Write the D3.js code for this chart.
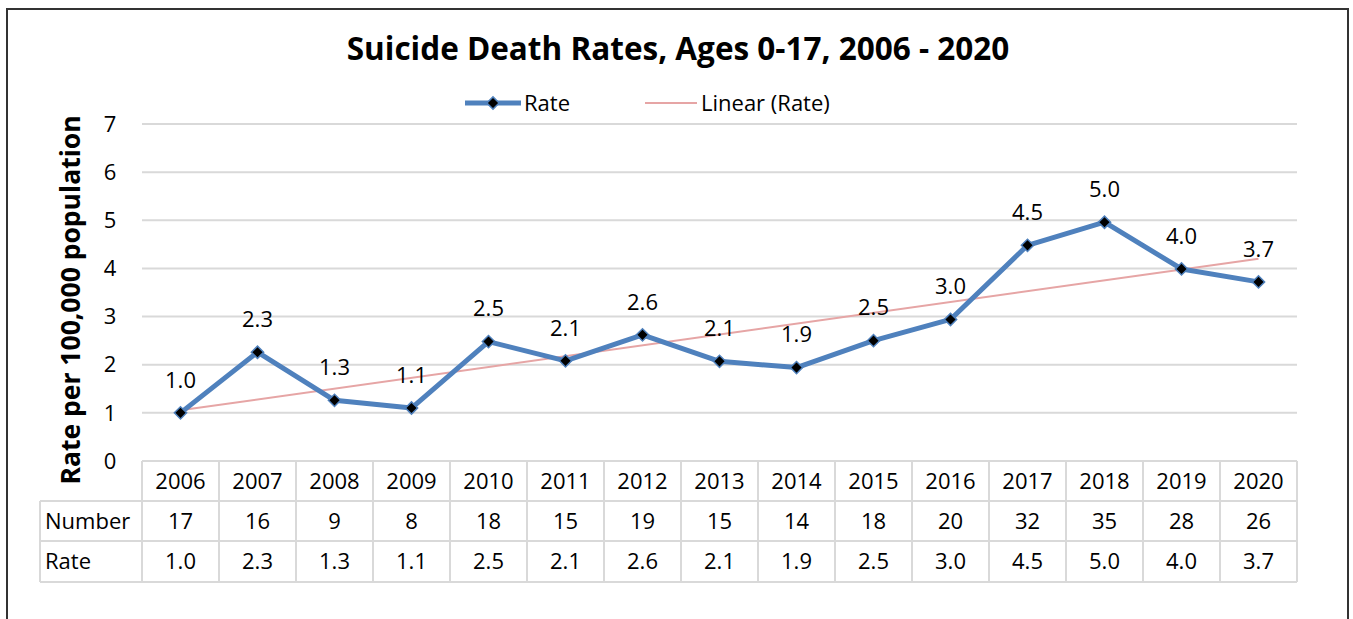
<!DOCTYPE html>
<html><head><meta charset="utf-8">
<script src="https://cdn.jsdelivr.net/npm/d3@7"></script>
<style>
html,body{margin:0;padding:0;background:#fff;}
svg text{font-family:"Open Sans",Lato,sans-serif;fill:#000;}
</style></head>
<body>
<svg id="c" width="1353" height="619"></svg>
<script>
const years = ["2006","2007","2008","2009","2010","2011","2012","2013","2014","2015","2016","2017","2018","2019","2020"];
const rates = [1.0, 2.26, 1.26, 1.1, 2.48, 2.08, 2.62, 2.07, 1.94, 2.5, 2.94, 4.48, 4.96, 3.99, 3.72];
const rateLabels = ["1.0","2.3","1.3","1.1","2.5","2.1","2.6","2.1","1.9","2.5","3.0","4.5","5.0","4.0","3.7"];
const numbers = ["17","16","9","8","18","15","19","15","14","18","20","32","35","28","26"];
const yTicks = [0,1,2,3,4,5,6,7];
const title = "Suicide Death Rates, Ages 0-17, 2006 - 2020";
const yTitle = "Rate per 100,000 population";

const svg = d3.select("#c");
svg.append("rect").attr("x",7).attr("y",9).attr("width",1341).attr("height",640)
  .attr("fill","none").attr("stroke","#333").attr("stroke-width",2);

const L = 142, R = 1297, T = 124, B = 461;
const x = d3.scaleBand().domain(years).range([L,R]);
const y = d3.scaleLinear().domain([0,7]).range([B,T]);
const FS = 22;

svg.append("text").attr("x",678).attr("y",60).attr("text-anchor","middle")
  .attr("font-size",31.5).attr("font-weight","bold").text(title);

svg.append("g").selectAll("line").data(yTicks.filter(d=>d>0)).join("line")
  .attr("x1",L).attr("x2",R).attr("y1",d=>y(d)).attr("y2",d=>y(d))
  .attr("stroke","#d9d9d9").attr("stroke-width",2);

svg.append("g").selectAll("text").data(yTicks).join("text")
  .attr("x",110).attr("y",d=>y(d)).attr("dy","0.35em").attr("text-anchor","middle")
  .attr("font-size",FS).text(d=>d);

svg.append("text").attr("transform","translate(80,300) rotate(-90)")
  .attr("text-anchor","middle").attr("font-size",26.5).attr("font-weight","bold").text(yTitle);

// trend line (least squares)
const n = rates.length, xs = d3.range(n);
const mx = d3.mean(xs), my = d3.mean(rates);
const slope = d3.sum(xs,i=>(i-mx)*(rates[i]-my))/d3.sum(xs,i=>(i-mx)*(i-mx));
const icpt = my - slope*mx;
const cx = d => x(d)+x.bandwidth()/2;
svg.append("line").attr("x1",cx(years[0])).attr("x2",cx(years[n-1]))
  .attr("y1",y(icpt)).attr("y2",y(icpt+slope*(n-1)))
  .attr("stroke","#e6a5a5").attr("stroke-width",2);

svg.append("path").datum(rates)
  .attr("d",d3.line().x((d,i)=>cx(years[i])).y(d=>y(d)))
  .attr("fill","none").attr("stroke","#4f81bd").attr("stroke-width",5).attr("stroke-linejoin","round");

const sq = d3.symbol().type(d3.symbolSquare).size(75);
svg.append("g").selectAll("path").data(rates).join("path")
  .attr("transform",(d,i)=>`translate(${cx(years[i])},${y(d)}) rotate(45)`)
  .attr("d",sq).attr("fill","#000").attr("stroke","#4f81bd").attr("stroke-width",1.5);

svg.append("g").selectAll("text").data(rates).join("text")
  .attr("x",(d,i)=>cx(years[i])).attr("y",d=>y(d)-33).attr("dy","0.35em")
  .attr("text-anchor","middle").attr("font-size",FS).text((d,i)=>rateLabels[i]);

// legend
const lg = svg.append("g");
lg.append("line").attr("x1",465).attr("x2",521).attr("y1",103).attr("y2",103).attr("stroke","#4f81bd").attr("stroke-width",5);
lg.append("path").attr("transform","translate(493,103) rotate(45)").attr("d",sq())
  .attr("fill","#000").attr("stroke","#4f81bd").attr("stroke-width",1.5);
lg.append("text").attr("x",524).attr("y",103).attr("dy","0.35em").attr("font-size",FS).text("Rate");
lg.append("line").attr("x1",645).attr("x2",697).attr("y1",103).attr("y2",103).attr("stroke","#e6a5a5").attr("stroke-width",2);
lg.append("text").attr("x",701).attr("y",103).attr("dy","0.35em").attr("font-size",FS).text("Linear (Rate)");

// data table
const rowT = [461, 501, 541], rowB = [501, 541, 582];
const tbl = svg.append("g");
const gridC = "#d9d9d9";
tbl.append("line").attr("x1",L).attr("x2",R).attr("y1",rowT[0]).attr("y2",rowT[0]).attr("stroke",gridC).attr("stroke-width",2);
rowB.forEach(v=>{
  tbl.append("line").attr("x1",40).attr("x2",R).attr("y1",v).attr("y2",v).attr("stroke",gridC).attr("stroke-width",2);
});
years.concat(["end"]).forEach((yr,i)=>{
  const xv = i<years.length ? x(yr) : R;
  tbl.append("line").attr("x1",xv).attr("x2",xv).attr("y1",rowT[0]).attr("y2",rowB[2]).attr("stroke",gridC).attr("stroke-width",2);
});
tbl.append("line").attr("x1",40).attr("x2",40).attr("y1",rowB[0]).attr("y2",rowB[2]).attr("stroke",gridC).attr("stroke-width",2);

const rows = [years, numbers, rateLabels];
rows.forEach((r,ri)=>{
  tbl.append("g").selectAll("text").data(r).join("text")
    .attr("x",(d,i)=>cx(years[i])).attr("y",(rowT[ri]+rowB[ri])/2).attr("dy","0.35em")
    .attr("text-anchor","middle").attr("font-size",FS).text(d=>d);
});
tbl.append("text").attr("x",45).attr("y",(rowT[1]+rowB[1])/2).attr("dy","0.35em").attr("font-size",FS).text("Number");
tbl.append("text").attr("x",45).attr("y",(rowT[2]+rowB[2])/2).attr("dy","0.35em").attr("font-size",FS).text("Rate");
</script>
</body></html>
